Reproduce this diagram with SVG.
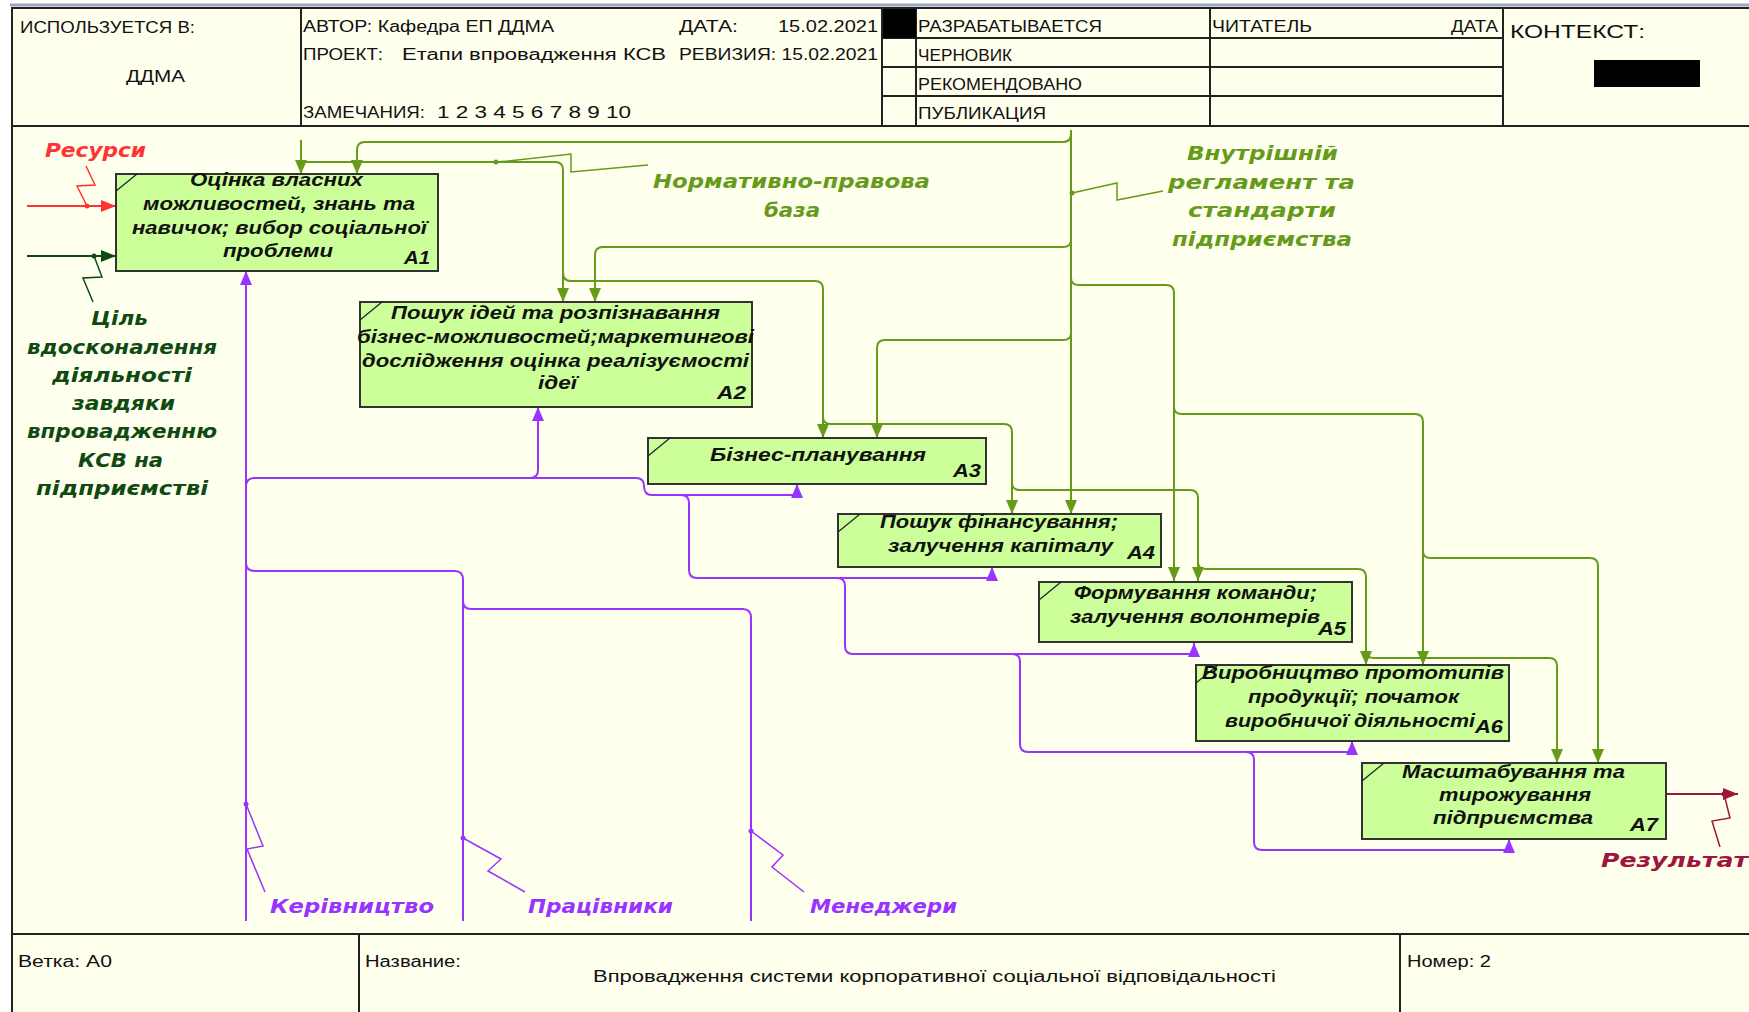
<svg xmlns="http://www.w3.org/2000/svg" width="1749" height="1012" viewBox="0 0 1749 1012">
  <defs>
    <style>
      .frame { stroke: #222; stroke-width: 2; fill: none; }
      .hdr { font-family: "Liberation Sans", Arial, sans-serif; font-size: 16px; fill: #111; }
      .box rect { fill: #CCFF99; stroke: #333; stroke-width: 2; }
      .box line { stroke: #222; stroke-width: 1.2; }
      .box text { font-family: "Liberation Sans", Arial, sans-serif; font-size: 18px; font-weight: bold; font-style: italic; fill: #111; }
      .lbl { font-family: "DejaVu Sans", "Liberation Sans", sans-serif; font-size: 20px; font-weight: bold; font-style: italic; }
      .g { stroke: #669A1A; stroke-width: 2; fill: none; }
      .p { stroke: #9933FF; stroke-width: 2; fill: none; }
      .lead { stroke-width: 1.5; fill: none; }
    </style>
    <marker id="ag" viewBox="0 0 14 12" refX="14" refY="6" markerWidth="14" markerHeight="12" markerUnits="userSpaceOnUse" orient="auto">
      <path d="M0,0 L14,6 L0,12 z" fill="#669A1A"/>
    </marker>
    <marker id="ap" viewBox="0 0 14 12" refX="14" refY="6" markerWidth="14" markerHeight="12" markerUnits="userSpaceOnUse" orient="auto">
      <path d="M0,0 L14,6 L0,12 z" fill="#9933FF"/>
    </marker>
    <marker id="ar" viewBox="0 0 15 12" refX="15" refY="6" markerWidth="15" markerHeight="12" markerUnits="userSpaceOnUse" orient="auto">
      <path d="M0,0 L15,6 L0,12 z" fill="#FF3333"/>
    </marker>
    <marker id="ad" viewBox="0 0 15 12" refX="15" refY="6" markerWidth="15" markerHeight="12" markerUnits="userSpaceOnUse" orient="auto">
      <path d="M0,0 L15,6 L0,12 z" fill="#0F4A12"/>
    </marker>
    <marker id="ao" viewBox="0 0 15 12" refX="15" refY="6" markerWidth="15" markerHeight="12" markerUnits="userSpaceOnUse" orient="auto">
      <path d="M0,0 L15,6 L0,12 z" fill="#A0153E"/>
    </marker>
  </defs>

  <!-- page -->
  <rect x="0" y="0" width="1749" height="1012" fill="#FFFFFF"/>
  <rect x="12" y="8" width="1740" height="1010" fill="#FFFFEE"/>
  <line x1="10" y1="5" x2="1749" y2="5" stroke="#9AA6BA" stroke-width="3"/>

  <!-- title block frame -->
  <g id="header">
    <path class="frame" d="M12,1012 V8 H1749 M12,126 H1749 M301,8 V126 M882,8 V126 M916,8 V126 M1210,8 V126 M1503,8 V126 M882,38 H1503 M882,67 H1503 M882,96 H1503"/>
    <rect x="883" y="9" width="33" height="29" fill="#000"/>
    <rect x="1594" y="60" width="106" height="27" fill="#000"/>
    <text class="hdr" x="20" y="33" textLength="175" lengthAdjust="spacingAndGlyphs">ИСПОЛЬЗУЕТСЯ В:</text>
    <text class="hdr" x="126" y="82" textLength="59" lengthAdjust="spacingAndGlyphs">ДДМА</text>
    <text class="hdr" x="303" y="32" textLength="251" lengthAdjust="spacingAndGlyphs">АВТОР: Кафедра ЕП ДДМА</text>
    <text class="hdr" x="679" y="32" textLength="59" lengthAdjust="spacingAndGlyphs">ДАТА:</text>
    <text class="hdr" x="778" y="32" textLength="100" lengthAdjust="spacingAndGlyphs">15.02.2021</text>
    <text class="hdr" x="303" y="60" textLength="80" lengthAdjust="spacingAndGlyphs">ПРОЕКТ:</text>
    <text class="hdr" x="402" y="60" textLength="264" lengthAdjust="spacingAndGlyphs">Етапи впровадження КСВ</text>
    <text class="hdr" x="679" y="60" textLength="199" lengthAdjust="spacingAndGlyphs">РЕВИЗИЯ: 15.02.2021</text>
    <text class="hdr" x="303" y="118" textLength="122" lengthAdjust="spacingAndGlyphs">ЗАМЕЧАНИЯ:</text>
    <text class="hdr" x="437" y="118" textLength="194" lengthAdjust="spacingAndGlyphs">1 2 3 4 5 6 7 8 9 10</text>
    <text class="hdr" x="918" y="32" textLength="184" lengthAdjust="spacingAndGlyphs">РАЗРАБАТЫВАЕТСЯ</text>
    <text class="hdr" x="918" y="61" textLength="94" lengthAdjust="spacingAndGlyphs">ЧЕРНОВИК</text>
    <text class="hdr" x="918" y="90" textLength="164" lengthAdjust="spacingAndGlyphs">РЕКОМЕНДОВАНО</text>
    <text class="hdr" x="918" y="119" textLength="128" lengthAdjust="spacingAndGlyphs">ПУБЛИКАЦИЯ</text>
    <text class="hdr" x="1212" y="32" textLength="100" lengthAdjust="spacingAndGlyphs">ЧИТАТЕЛЬ</text>
    <text class="hdr" x="1451" y="32" textLength="47" lengthAdjust="spacingAndGlyphs">ДАТА</text>
    <text class="hdr" x="1510" y="38" style="font-size:19px" textLength="135" lengthAdjust="spacingAndGlyphs">КОНТЕКСТ:</text>
  </g>

  <g id="footer">
    <path class="frame" d="M12,934 H1749 M359,934 V1012 M1400,934 V1012"/>
    <text class="hdr" x="18" y="967" textLength="94" lengthAdjust="spacingAndGlyphs">Ветка: А0</text>
    <text class="hdr" x="365" y="967" textLength="96" lengthAdjust="spacingAndGlyphs">Название:</text>
    <text class="hdr" x="593" y="982" textLength="683" lengthAdjust="spacingAndGlyphs">Впровадження системи корпоративної соціальної відповідальності</text>
    <text class="hdr" x="1407" y="967" textLength="84" lengthAdjust="spacingAndGlyphs">Номер: 2</text>
  </g>

  <!-- connectors -->
  <g id="connectors">
    <!-- controls (green) -->
    <path class="g" d="M301,140 V174" marker-end="url(#ag)"/>
    <path class="g" d="M301,162 H555 Q563,162 563,170 V302" marker-end="url(#ag)"/>
    <path class="g" d="M563,272 Q563,281 571,281 H815 Q823,281 823,289 V438" marker-end="url(#ag)"/>
    <path class="g" d="M1071,130 V514" marker-end="url(#ag)"/>
    <path class="g" d="M1071,134 Q1071,142 1063,142 H365 Q357,142 357,150 V174" marker-end="url(#ag)"/>
    <path class="g" d="M1071,240 Q1071,247 1063,247 H603 Q595,247 595,255 V302" marker-end="url(#ag)"/>
    <path class="g" d="M1071,333 Q1071,340 1063,340 H885 Q877,340 877,348 V438" marker-end="url(#ag)"/>
    <path class="g" d="M1071,278 Q1071,285 1079,285 H1166 Q1174,285 1174,293 V581" marker-end="url(#ag)"/>
    <path class="g" d="M1174,407 Q1174,414 1182,414 H1415 Q1423,414 1423,422 V665" marker-end="url(#ag)"/>
    <path class="g" d="M1423,551 Q1423,558 1431,558 H1590 Q1598,558 1598,566 V763" marker-end="url(#ag)"/>
    <path class="g" d="M823,417 Q823,424 831,424 H1004 Q1012,424 1012,432 V514" marker-end="url(#ag)"/>
    <path class="g" d="M1012,483 Q1012,490 1020,490 H1190 Q1198,490 1198,498 V581" marker-end="url(#ag)"/>
    <path class="g" d="M1198,562 Q1198,569 1206,569 H1358 Q1366,569 1366,577 V665" marker-end="url(#ag)"/>
    <path class="g" d="M1366,651 Q1366,658 1374,658 H1549 Q1557,658 1557,666 V763" marker-end="url(#ag)"/>
    <!-- label leaders (green) -->
    <polyline class="g lead" points="648,165 571,172 571,154 508,161 496,162"/>
    <circle cx="496" cy="162" r="2.5" fill="#669A1A"/>
    <polyline class="g lead" points="1163,191 1117,200 1117,183 1072,193"/>
    <circle cx="1072" cy="193" r="2.5" fill="#669A1A"/>

    <!-- mechanisms (violet) -->
    <path class="p" d="M246,921 V271" marker-end="url(#ap)"/>
    <path class="p" d="M246,487 Q246,478 254,478 H636 Q644,478 644,486 Q644,495 652,495 H797 V484" marker-end="url(#ap)"/>
    <path class="p" d="M530,478 Q538,478 538,470 V407" marker-end="url(#ap)"/>
    <path class="p" d="M681,495 Q689,495 689,503 V570 Q689,578 697,578 H992 V567" marker-end="url(#ap)"/>
    <path class="p" d="M837,578 Q845,578 845,586 V646 Q845,654 853,654 H1194 V643" marker-end="url(#ap)"/>
    <path class="p" d="M1012,654 Q1020,654 1020,662 V744 Q1020,752 1028,752 H1352 V741" marker-end="url(#ap)"/>
    <path class="p" d="M1246,752 Q1254,752 1254,760 V842 Q1254,850 1262,850 H1509 V839" marker-end="url(#ap)"/>
    <path class="p" d="M463,921 V580 Q463,571 455,571 H255 Q246,571 246,563"/>
    <path class="p" d="M751,921 V618 Q751,609 743,609 H471 Q463,609 463,601"/>
    <!-- label leaders (violet) -->
    <polyline class="p lead" points="246,804 263,846 247,849 265,892"/>
    <circle cx="246" cy="804" r="2.5" fill="#9933FF"/>
    <polyline class="p lead" points="463,838 501,859 488,871 525,892"/>
    <circle cx="463" cy="838" r="2.5" fill="#9933FF"/>
    <polyline class="p lead" points="751,831 783,855 772,867 804,892"/>
    <circle cx="751" cy="831" r="2.5" fill="#9933FF"/>

    <!-- input: resources -->
    <path d="M27,206 H116" stroke="#FF3333" stroke-width="2" fill="none" marker-end="url(#ar)"/>
    <polyline class="lead" stroke="#FF3333" points="86,166 95,185 77,186 87,206"/>
    <circle cx="87" cy="206" r="2.5" fill="#FF3333"/>
    <!-- input: goal -->
    <path d="M27,256 H116" stroke="#0F4A12" stroke-width="2" fill="none" marker-end="url(#ad)"/>
    <polyline class="lead" stroke="#0F4A12" points="94,256 102,277 83,278 93,302"/>
    <circle cx="94" cy="256" r="2.5" fill="#0F4A12"/>
    <!-- output: result -->
    <path d="M1666,794 H1738" stroke="#A0153E" stroke-width="2" fill="none" marker-end="url(#ao)"/>
    <polyline class="lead" stroke="#A0153E" points="1724,794 1730,818 1712,821 1720,847"/>
    <circle cx="1724" cy="794" r="2.5" fill="#A0153E"/>
  </g>

  <!-- activity boxes -->
  <g id="A1" class="box">
    <rect x="116" y="174" width="322" height="97"/>
    <line x1="116" y1="191" x2="137" y2="174"/>
    <text x="190" y="186" textLength="173" lengthAdjust="spacingAndGlyphs">Оцінка власних</text>
    <text x="143" y="210" textLength="272" lengthAdjust="spacingAndGlyphs">можливостей, знань та</text>
    <text x="132" y="234" textLength="295" lengthAdjust="spacingAndGlyphs">навичок; вибор соціальної</text>
    <text x="223" y="257" textLength="110" lengthAdjust="spacingAndGlyphs">проблеми</text>
    <text x="404" y="264" textLength="26" lengthAdjust="spacingAndGlyphs">A1</text>
  </g>
  <g id="A2" class="box">
    <rect x="360" y="302" width="392" height="105"/>
    <line x1="360" y1="320" x2="382" y2="302"/>
    <text x="391" y="319" textLength="329" lengthAdjust="spacingAndGlyphs">Пошук ідей та розпізнавання</text>
    <text x="357" y="343" textLength="397" lengthAdjust="spacingAndGlyphs">бізнес-можливостей;маркетингові</text>
    <text x="362" y="367" textLength="387" lengthAdjust="spacingAndGlyphs">дослідження оцінка реалізуємості</text>
    <text x="538" y="389" textLength="39" lengthAdjust="spacingAndGlyphs">ідеї</text>
    <text x="717" y="399" textLength="29" lengthAdjust="spacingAndGlyphs">A2</text>
  </g>
  <g id="A3" class="box">
    <rect x="648" y="438" width="338" height="46"/>
    <line x1="648" y1="456" x2="670" y2="438"/>
    <text x="710" y="461" textLength="216" lengthAdjust="spacingAndGlyphs">Бізнес-планування</text>
    <text x="953" y="477" textLength="28" lengthAdjust="spacingAndGlyphs">A3</text>
  </g>
  <g id="A4" class="box">
    <rect x="838" y="514" width="323" height="53"/>
    <line x1="838" y1="532" x2="860" y2="514"/>
    <text x="880" y="528" textLength="238" lengthAdjust="spacingAndGlyphs">Пошук фінансування;</text>
    <text x="888" y="552" textLength="225" lengthAdjust="spacingAndGlyphs">залучення капіталу</text>
    <text x="1127" y="559" textLength="28" lengthAdjust="spacingAndGlyphs">A4</text>
  </g>
  <g id="A5" class="box">
    <rect x="1039" y="582" width="313" height="60"/>
    <line x1="1039" y1="600" x2="1061" y2="582"/>
    <text x="1074" y="599" textLength="243" lengthAdjust="spacingAndGlyphs">Формування команди;</text>
    <text x="1070" y="623" textLength="250" lengthAdjust="spacingAndGlyphs">залучення волонтерів</text>
    <text x="1318" y="635" textLength="28" lengthAdjust="spacingAndGlyphs">A5</text>
  </g>
  <g id="A6" class="box">
    <rect x="1196" y="665" width="313" height="76"/>
    <line x1="1196" y1="683" x2="1218" y2="665"/>
    <text x="1202" y="679" textLength="302" lengthAdjust="spacingAndGlyphs">Виробництво прототипів</text>
    <text x="1248" y="703" textLength="211" lengthAdjust="spacingAndGlyphs">продукції; початок</text>
    <text x="1225" y="727" textLength="250" lengthAdjust="spacingAndGlyphs">виробничої діяльності</text>
    <text x="1475" y="733" textLength="28" lengthAdjust="spacingAndGlyphs">A6</text>
  </g>
  <g id="A7" class="box">
    <rect x="1362" y="763" width="304" height="76"/>
    <line x1="1362" y1="781" x2="1384" y2="763"/>
    <text x="1402" y="778" textLength="223" lengthAdjust="spacingAndGlyphs">Масштабування та</text>
    <text x="1439" y="801" textLength="152" lengthAdjust="spacingAndGlyphs">тирожування</text>
    <text x="1433" y="824" textLength="160" lengthAdjust="spacingAndGlyphs">підприємства</text>
    <text x="1630" y="831" textLength="28" lengthAdjust="spacingAndGlyphs">A7</text>
  </g>

  <!-- arrow labels -->
  <g id="labels">
    <text class="lbl" fill="#FF3333" x="45" y="157" textLength="101" lengthAdjust="spacingAndGlyphs">Ресурси</text>
    <g fill="#0F4A12">
      <text class="lbl" x="91" y="325" textLength="57" lengthAdjust="spacingAndGlyphs">Ціль</text>
      <text class="lbl" x="27" y="354" textLength="190" lengthAdjust="spacingAndGlyphs">вдосконалення</text>
      <text class="lbl" x="52" y="382" textLength="140" lengthAdjust="spacingAndGlyphs">діяльності</text>
      <text class="lbl" x="72" y="410" textLength="103" lengthAdjust="spacingAndGlyphs">завдяки</text>
      <text class="lbl" x="27" y="438" textLength="190" lengthAdjust="spacingAndGlyphs">впровадженню</text>
      <text class="lbl" x="78" y="467" textLength="85" lengthAdjust="spacingAndGlyphs">КСВ на</text>
      <text class="lbl" x="36" y="495" textLength="172" lengthAdjust="spacingAndGlyphs">підприємстві</text>
    </g>
    <g fill="#669A1A">
      <text class="lbl" x="653" y="188" textLength="277" lengthAdjust="spacingAndGlyphs">Нормативно-правова</text>
      <text class="lbl" x="764" y="217" textLength="56" lengthAdjust="spacingAndGlyphs">база</text>
      <text class="lbl" x="1187" y="160" textLength="151" lengthAdjust="spacingAndGlyphs">Внутрішній</text>
      <text class="lbl" x="1168" y="189" textLength="187" lengthAdjust="spacingAndGlyphs">регламент та</text>
      <text class="lbl" x="1188" y="217" textLength="148" lengthAdjust="spacingAndGlyphs">стандарти</text>
      <text class="lbl" x="1172" y="246" textLength="180" lengthAdjust="spacingAndGlyphs">підприємства</text>
    </g>
    <g fill="#9933FF">
      <text class="lbl" x="270" y="913" textLength="164" lengthAdjust="spacingAndGlyphs">Керівництво</text>
      <text class="lbl" x="528" y="913" textLength="145" lengthAdjust="spacingAndGlyphs">Працівники</text>
      <text class="lbl" x="810" y="913" textLength="147" lengthAdjust="spacingAndGlyphs">Менеджери</text>
    </g>
    <text class="lbl" fill="#A0153E" x="1601" y="867" textLength="147" lengthAdjust="spacingAndGlyphs">Результат</text>
  </g>
</svg>
